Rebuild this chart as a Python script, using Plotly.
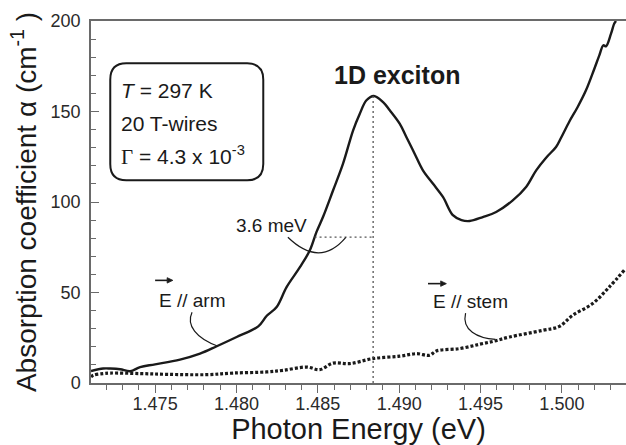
import plotly.graph_objects as go

# ---- data ----
arm_energy = [1.47106, 1.47181, 1.47224, 1.47285, 1.47347, 1.47408, 1.47500, 1.47653,
              1.47776, 1.47879, 1.48001, 1.48134, 1.48185, 1.48247, 1.48308, 1.48390,
              1.48451, 1.48492, 1.48533, 1.48594, 1.48655, 1.48717, 1.48758, 1.48799,
              1.48844, 1.48901, 1.48942, 1.49003, 1.49044, 1.49095, 1.49146, 1.49207,
              1.49269, 1.49330, 1.49383, 1.49433, 1.49514, 1.49596, 1.49698, 1.49780,
              1.49842, 1.49903, 1.49964, 1.49995, 1.50046, 1.50097, 1.50148, 1.50199,
              1.50230, 1.50255, 1.50271, 1.50302, 1.50322, 1.50333]
arm_alpha = [6.6, 8.0, 8.0, 7.6, 6.5, 8.8, 10.3, 12.9,
             16.2, 20.3, 25.4, 31.3, 37.0, 42.0, 53.0, 64.0,
             73.3, 83.5, 92.0, 106.5, 121.2, 139.6, 148.8, 156.2,
             158.6, 155.2, 150.7, 143.3, 135.9, 126.7, 117.5, 110.2,
             102.8, 92.7, 90.0, 89.5, 91.7, 94.5, 100.9, 108.3,
             117.5, 124.5, 130.4, 135.5, 144.5, 152.5, 161.7, 173.5,
             181.0, 186.6, 186.0, 193.0, 198.6, 200.0]

stem_energy = [1.47106, 1.47120, 1.47181, 1.47224, 1.47408, 1.47572, 1.47817, 1.47980,
               1.48185, 1.48287, 1.48431, 1.48512, 1.48594, 1.48696, 1.48839, 1.49003,
               1.49106, 1.49187, 1.49228, 1.49371, 1.49494, 1.49586, 1.49678, 1.49882,
               1.49985, 1.50066, 1.50189, 1.50291, 1.50383]
stem_alpha = [3.3, 4.3, 5.2, 5.5, 5.2, 4.8, 4.6, 5.5,
              6.1, 7.0, 8.8, 7.4, 11.0, 10.7, 13.5, 14.8,
              16.2, 15.3, 17.7, 19.0, 21.4, 23.2, 25.4, 29.1,
              31.3, 37.4, 43.9, 53.0, 62.3]

peak_energy = 1.4884
peak_alpha = 158.6
half_alpha = 80.6
half_left_energy = 1.4848

x_tickvals = [1.475, 1.480, 1.485, 1.490, 1.495, 1.500]
x_ticktext = ["1.475", "1.480", "1.485", "1.490", "1.495", "1.500"]
y_tickvals = [0, 50, 100, 150, 200]

FONT = "Liberation Sans, Arial, Helvetica, sans-serif"
INK = "#1a1a1a"
AXC = "#6a6a6a"

fig = go.Figure()
fig.add_trace(go.Scatter(x=stem_energy, y=stem_alpha, mode="lines",
                         line=dict(color=INK, width=3.2, dash="3px,2px"),
                         line_shape="spline", showlegend=False))
fig.add_trace(go.Scatter(x=arm_energy, y=arm_alpha, mode="lines",
                         line=dict(color=INK, width=2.4),
                         line_shape="spline", showlegend=False))

# dotted reference lines
fig.add_shape(type="line", xref="x", yref="y", x0=peak_energy, x1=peak_energy,
              y0=0, y1=peak_alpha, line=dict(color="#555", width=1.3, dash="2px,3px"))
fig.add_shape(type="line", xref="x", yref="y", x0=half_left_energy, x1=peak_energy,
              y0=half_alpha, y1=half_alpha, line=dict(color="#555", width=1.3, dash="2px,3px"))

# callout curves
fig.add_shape(type="path", xref="x", yref="y",
              path="M 1.48316 80.5 Q 1.48512 63.4 1.48672 80.5",
              line=dict(color=INK, width=1.2))
fig.add_shape(type="path", xref="x", yref="y",
              path="M 1.47727 39.1 C 1.4769 31.9 1.47752 24.7 1.47887 20.3",
              line=dict(color=INK, width=1.2))
fig.add_shape(type="path", xref="x", yref="y",
              path="M 1.49408 38.6 C 1.49383 29.1 1.49482 24.7 1.49592 24.1",
              line=dict(color=INK, width=1.2))

# vector arrows above "E"
for tail, base, tip, yv in [(1.47500, 1.47574, 1.47609, 56.7),
                            (1.49177, 1.49255, 1.49290, 54.9)]:
    fig.add_shape(type="line", xref="x", yref="y", x0=tail, x1=base, y0=yv, y1=yv,
                  line=dict(color=INK, width=1.6))
    fig.add_shape(type="path", xref="x", yref="y",
                  path=f"M {base} {yv+1.5} L {tip} {yv} L {base} {yv-1.5} Z",
                  fillcolor=INK, line=dict(color=INK, width=0.8))

# rounded info box (paper coords)
x0, x1, y0, y1 = 0.036, 0.322, 0.560, 0.883
rx, ry = 0.03, 0.045
box_path = (f"M {x0+rx} {y1} L {x1-rx} {y1} Q {x1} {y1} {x1} {y1-ry} "
            f"L {x1} {y0+ry} Q {x1} {y0} {x1-rx} {y0} L {x0+rx} {y0} "
            f"Q {x0} {y0} {x0} {y0+ry} L {x0} {y1-ry} Q {x0} {y1} {x0+rx} {y1} Z")
fig.add_shape(type="path", xref="paper", yref="paper", path=box_path,
              line=dict(color=INK, width=2))

box_lines = ["<i>T</i> = 297 K", "20 T-wires",
             "<span style='font-family:Liberation Serif, Times New Roman, serif'>Γ</span> = 4.3 x 10<sup>-3</sup>"]
box_y = [0.8086, 0.7171, 0.6287]
for t, yy in zip(box_lines, box_y):
    fig.add_annotation(x=0.053, y=yy, xref="paper", yref="paper", text=t,
                       showarrow=False, xanchor="left", yanchor="middle",
                       font=dict(family=FONT, size=21, color=INK))

fig.add_annotation(x=1.48988, y=170, xref="x", yref="y", text="<b>1D exciton</b>",
                   showarrow=False, font=dict(family=FONT, size=25, color=INK))
fig.add_annotation(x=1.48218, y=87.1, xref="x", yref="y", text="3.6 meV",
                   showarrow=False, font=dict(family=FONT, size=19, color=INK))
fig.add_annotation(x=1.4751, y=45.7, xref="x", yref="y", text="E // arm",
                   showarrow=False, xanchor="left", font=dict(family=FONT, size=19, color=INK))
fig.add_annotation(x=1.49198, y=44.8, xref="x", yref="y", text="E // stem",
                   showarrow=False, xanchor="left", font=dict(family=FONT, size=19, color=INK))

fig.update_xaxes(range=[1.47106, 1.50394], tickvals=x_tickvals, ticktext=x_ticktext,
                 ticks="outside", ticklen=8, tickwidth=1.3, tickcolor=AXC,
                 minor=dict(dtick=0.001, tick0=1.475, ticks="outside", ticklen=5,
                            tickwidth=1.2, tickcolor=AXC),
                 showline=True, linecolor=AXC, linewidth=1.5, mirror=True,
                 showgrid=False, zeroline=False, ticklabelstandoff=-4,
                 tickfont=dict(family=FONT, size=18, color="#2a2a2a"),
                 title=dict(text="Photon Energy (eV)", standoff=6,
                            font=dict(family=FONT, size=29, color=INK)))
fig.update_yaxes(range=[0, 200], tickvals=y_tickvals,
                 ticks="inside", ticklen=8, tickwidth=1.3, tickcolor=AXC,
                 minor=dict(dtick=10, ticks="inside", ticklen=5, tickwidth=1.2,
                            tickcolor=AXC),
                 showline=True, linecolor=AXC, linewidth=1.5, mirror=False,
                 showgrid=False, zeroline=False, ticklabelstandoff=5,
                 tickfont=dict(family=FONT, size=18, color="#2a2a2a"),
                 title=dict(text="Absorption coefficient α (cm<sup>-1</sup> )", standoff=6,
                            font=dict(family=FONT, size=28, color=INK)))

fig.update_layout(width=626, height=445,
                  margin=dict(l=91, r=0, t=21, b=62, pad=0),
                  paper_bgcolor="white", plot_bgcolor="white")

fig.write_html("out.html", config={"displayModeBar": False},
               post_script="document.body.style.margin='0';")
